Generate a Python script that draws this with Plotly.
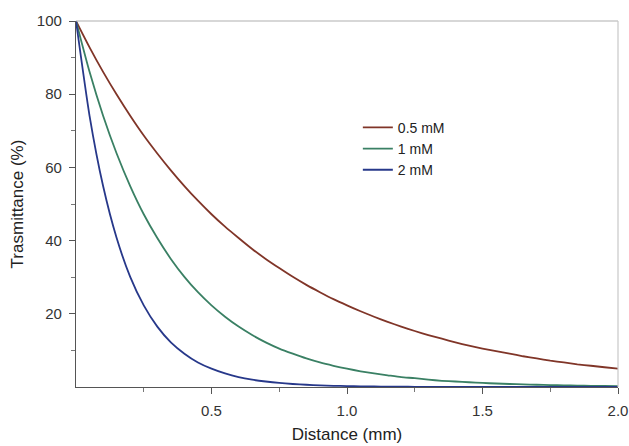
import plotly.graph_objects as go

distance_mm = [0.00, 0.05, 0.10, 0.15, 0.20, 0.25, 0.30, 0.35, 0.40, 0.45,
               0.50, 0.55, 0.60, 0.65, 0.70, 0.75, 0.80, 0.85, 0.90, 0.95,
               1.00, 1.05, 1.10, 1.15, 1.20, 1.25, 1.30, 1.35, 1.40, 1.45,
               1.50, 1.55, 1.60, 1.65, 1.70, 1.75, 1.80, 1.85, 1.90, 1.95, 2.00]

t_05mM = [100.0, 92.8, 86.1, 79.9, 74.1, 68.7, 63.8, 59.2, 54.9, 50.9,
          47.2, 43.8, 40.7, 37.7, 35.0, 32.5, 30.1, 27.9, 25.9, 24.0,
          22.3, 20.7, 19.2, 17.8, 16.5, 15.3, 14.2, 13.2, 12.2, 11.3,
          10.5, 9.8, 9.1, 8.4, 7.8, 7.2, 6.7, 6.2, 5.8, 5.4, 5.0]

t_1mM = [100.0, 86.1, 74.1, 63.8, 54.9, 47.2, 40.7, 35.0, 30.1, 25.9,
         22.3, 19.2, 16.5, 14.2, 12.2, 10.5, 9.1, 7.8, 6.7, 5.8,
         5.0, 4.3, 3.7, 3.2, 2.7, 2.4, 2.0, 1.7, 1.5, 1.3,
         1.1, 0.96, 0.82, 0.71, 0.61, 0.52, 0.45, 0.39, 0.33, 0.29, 0.25]

t_2mM = [100.0, 74.1, 54.9, 40.7, 30.1, 22.3, 16.5, 12.2, 9.1, 6.7,
         5.0, 3.7, 2.7, 2.0, 1.5, 1.1, 0.82, 0.61, 0.45, 0.33,
         0.25, 0.18, 0.14, 0.10, 0.07, 0.06, 0.04, 0.03, 0.02, 0.02,
         0.01, 0.01, 0.01, 0.0, 0.0, 0.0, 0.0, 0.0, 0.0, 0.0, 0.0]

series_names = ["0.5 mM", "1 mM", "2 mM"]
series_values = [t_05mM, t_1mM, t_2mM]
series_colors = ["#803528", "#3a8064", "#27388a"]

x_ticks = [0.5, 1.0, 1.5, 2.0]
x_tick_labels = ["0.5", "1.0", "1.5", "2.0"]
y_ticks = [20, 40, 60, 80, 100]
y_tick_labels = ["20", "40", "60", "80", "100"]

fig = go.Figure()
for name, vals, col in zip(series_names, series_values, series_colors):
    fig.add_trace(go.Scatter(x=distance_mm, y=vals, mode="lines", name=name,
                             line=dict(color=col, width=1.8, shape="spline", smoothing=0.6)))

font_family = "Liberation Sans, Arial, sans-serif"
axis_common = dict(showgrid=False, zeroline=False, showline=True, linecolor="#555555",
                   linewidth=1.2, ticks="outside", ticklen=6, tickwidth=1.2,
                   tickcolor="#555555", automargin=False,
                   tickfont=dict(family=font_family, size=15, color="#333333"))

fig.update_xaxes(range=[0, 2.0], tickvals=x_ticks, ticktext=x_tick_labels,
                 ticklabelstandoff=4,
                 minor=dict(ticks="outside", ticklen=4, tickwidth=1, tickcolor="#777777",
                            tickvals=[0.25, 0.75, 1.25, 1.75]),
                 title=dict(text="Distance (mm)", font=dict(family=font_family, size=17, color="#222222"),
                            standoff=10),
                 **axis_common)
fig.update_yaxes(range=[0, 100], tickvals=y_ticks, ticktext=y_tick_labels,
                 ticklabelstandoff=4,
                 minor=dict(ticks="outside", ticklen=4, tickwidth=1, tickcolor="#777777",
                            tickvals=[10, 30, 50, 70, 90]),
                 title=dict(text="Trasmittance (%)", font=dict(family=font_family, size=17, color="#222222"),
                            standoff=8),
                 **axis_common)

# light top/right frame
fig.add_shape(type="line", xref="paper", yref="paper", x0=0, x1=1, y0=1, y1=1,
              line=dict(color="#b0b0b0", width=1.2))
fig.add_shape(type="line", xref="paper", yref="paper", x0=1, x1=1, y0=0, y1=1,
              line=dict(color="#c8c8c8", width=1.2))

fig.update_layout(
    width=629, height=446,
    margin=dict(l=76, r=11, t=21, b=59),
    paper_bgcolor="white", plot_bgcolor="white",
    font=dict(family=font_family, color="#222222"),
    legend=dict(x=0.52, y=0.752, xanchor="left", yanchor="top",
                bgcolor="rgba(0,0,0,0)", font=dict(family=font_family, size=14, color="#222222"),
                tracegroupgap=0, itemwidth=30),
    showlegend=True,
)

fig.write_html("out.html", config={"displayModeBar": False},
               post_script="document.body.style.margin='0';document.body.style.padding='0';")
